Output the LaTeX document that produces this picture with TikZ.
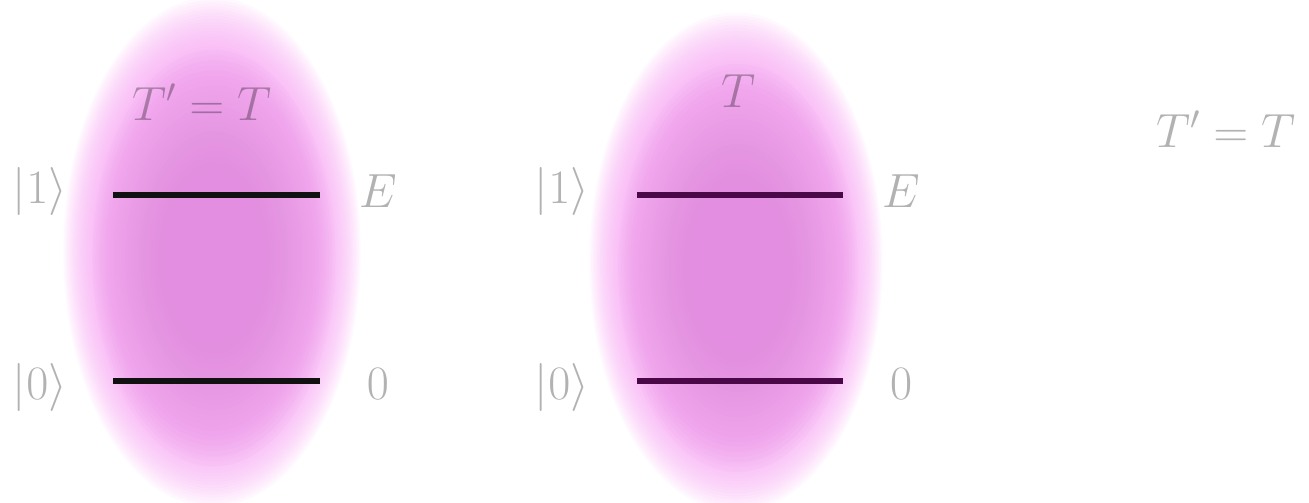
\RequirePackage{fix-cm}
\documentclass[tikz,border=0pt]{standalone}
\usepackage{amsmath}
\definecolor{glowA}{HTML}{E28ADF}
\definecolor{glowO}{HTML}{F7A6F3}
\definecolor{levA}{HTML}{111111}
\definecolor{levB}{HTML}{4A0848}
\begin{document}
\begin{tikzpicture}[x=1pt,y=-1pt,
  lbl/.style={text=black, text opacity=0.3, font=\fontsize{48}{56}\selectfont, inner sep=0pt, anchor=base},
  glowout/.style={fill=glowO, fill opacity=0.07},
  glowin/.style={fill=glowA, fill opacity=0.055},
  level/.style={line width=6pt}]
\useasboundingbox (0,0) rectangle (1309,503);
% glows (stacked translucent ellipses)
\foreach \i in {0,...,24} {
  \pgfmathsetmacro\f{1.04-0.3*\i/24}
  \fill[glowout] (212,252) ellipse [x radius=143*\f, y radius=245*\f];
  \fill[glowout] (736,262) ellipse [x radius=141*\f, y radius=240*\f];
}
\foreach \i in {0,...,24} {
  \pgfmathsetmacro\f{0.85-0.5*\i/24}
  \fill[glowin] (214,258) ellipse [x radius=143*\f, y radius=245*\f];
  \fill[glowin] (738,268) ellipse [x radius=141*\f, y radius=240*\f];
}
% level end points
\coordinate (a1s) at (113,195); \coordinate (a1e) at (320,195);
\coordinate (a0s) at (113,381); \coordinate (a0e) at (320,381);
\coordinate (b1s) at (637,195); \coordinate (b1e) at (843,195);
\coordinate (b0s) at (637,381); \coordinate (b0e) at (843,381);
\draw[level, levA] (a1s) -- (a1e);
\draw[level, levA] (a0s) -- (a0e);
\draw[level, levB] (b1s) -- (b1e);
\draw[level, levB] (b0s) -- (b0e);
% labels panel 1
\node[lbl] (ta) at (202,120) {$T'=T$};
\node[lbl] (ka1) at (40,203) {$|1\rangle$};
\node[lbl] (ka0) at (40,399) {$|0\rangle$};
\node[lbl] (ea) at (378,207) {$E$};
\node[lbl] (za) at (378,399) {$0$};
% labels panel 2
\node[lbl] (tb) at (739,107) {$T$};
\node[lbl] (kb1) at (562,203) {$|1\rangle$};
\node[lbl] (kb0) at (562,399) {$|0\rangle$};
\node[lbl] (eb) at (901,207) {$E$};
\node[lbl] (zb) at (901,399) {$0$};
% right label
\node[lbl] (tc) at (1226,147) {$T'=T$};
\end{tikzpicture}
\end{document}
